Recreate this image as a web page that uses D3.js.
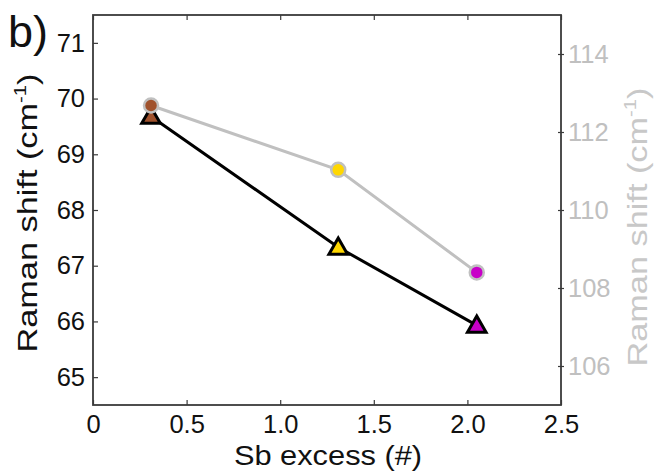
<!DOCTYPE html>
<html>
<head>
<meta charset="utf-8">
<script src="https://cdn.jsdelivr.net/npm/d3@7"></script>
<style>
  html, body { margin: 0; padding: 0; background: #fff; }
  svg { display: block; }
  text { font-family: "Liberation Sans", Arial, sans-serif; }
</style>
</head>
<body>
<svg id="chart" width="656" height="474"></svg>
<script>
// Sb excess for each sample
const sbExcess = [0.31, 1.31, 2.05];
// Low-frequency Raman mode (left axis), cm^-1
const ramanLow = [69.68, 67.33, 65.93];
// High-frequency Raman mode (right axis), cm^-1
const ramanHigh = [112.68, 111.03, 108.4];
// Sample colours
const sampleColors = ["#a0522d", "#ffd700", "#c800c8"];
// Tick labels
const xTicks = [0, 0.5, 1.0, 1.5, 2.0, 2.5];
const xTickLabels = ["0", "0.5", "1.0", "1.5", "2.0", "2.5"];
const yLeftTicks = [65, 66, 67, 68, 69, 70, 71];
const yRightTicks = [106, 108, 110, 112, 114];

const svg = d3.select("#chart");
const L = 93, R = 561, T = 15, B = 405;
const frameColor = "#3a3a3a";
const greyColor = "#c0c0c0";
const tickFont = 25.5;

const x = d3.scaleLinear().domain([0, 2.5]).range([L, R]);
const yL = d3.scaleLinear().domain([64.5, 71.5]).range([B, T]);
const yR = d3.scaleLinear().domain([105, 115]).range([B, T]);

// Bottom axis: inward ticks, labels below
const xAxis = svg.append("g").attr("transform", `translate(0,${B})`)
  .call(d3.axisBottom(x).tickValues(xTicks).tickFormat((d, i) => xTickLabels[i])
    .tickSizeInner(-5).tickSizeOuter(0).tickPadding(10));
// Top axis: inward ticks, no labels
const xTop = svg.append("g").attr("transform", `translate(0,${T})`)
  .call(d3.axisTop(x).tickValues(xTicks).tickFormat("").tickSizeInner(-5).tickSizeOuter(0));
// Left axis
const yAxisL = svg.append("g").attr("transform", `translate(${L},0)`)
  .call(d3.axisLeft(yL).tickValues(yLeftTicks).tickFormat(d3.format("d"))
    .tickSizeInner(-5).tickSizeOuter(0).tickPadding(8));
// Right axis (grey labels)
const yAxisR = svg.append("g").attr("transform", `translate(${R},0)`)
  .call(d3.axisRight(yR).tickValues(yRightTicks).tickFormat(d3.format("d"))
    .tickSizeInner(3).tickSizeOuter(0).tickPadding(4));
yAxisR.selectAll(".tick line").attr("x1", -3);

[xAxis, xTop, yAxisL, yAxisR].forEach(g => {
  g.select(".domain").remove();
  g.selectAll(".tick line").attr("stroke", frameColor).attr("stroke-width", 1.2);
  g.selectAll(".tick text").attr("font-size", tickFont)
    .attr("font-family", "'Liberation Sans', Arial, sans-serif").attr("fill", "#111");
});
yAxisR.selectAll(".tick text").attr("fill", "#c0c0c0");

// Plot frame
svg.append("rect").attr("x", L).attr("y", T).attr("width", R - L).attr("height", B - T)
  .attr("fill", "none").attr("stroke", frameColor).attr("stroke-width", 1.8);

const pts = sbExcess.map((s, i) => ({ s, lo: ramanLow[i], hi: ramanHigh[i], c: sampleColors[i] }));

// Low-frequency mode: black line with triangles
svg.append("path").datum(pts)
  .attr("d", d3.line().x(d => x(d.s)).y(d => yL(d.lo)))
  .attr("fill", "none").attr("stroke", "#000").attr("stroke-width", 3);
const tri = d3.symbol().type(d3.symbolTriangle).size(150);
svg.selectAll(".tri").data(pts).join("path")
  .attr("transform", d => `translate(${x(d.s)},${yL(d.lo) + 1.5})`)
  .attr("d", tri).attr("fill", d => d.c).attr("stroke", "#000").attr("stroke-width", 3)
  .attr("stroke-linejoin", "miter");

// High-frequency mode: grey line with circles
svg.append("path").datum(pts)
  .attr("d", d3.line().x(d => x(d.s)).y(d => yR(d.hi)))
  .attr("fill", "none").attr("stroke", greyColor).attr("stroke-width", 3);
svg.selectAll(".dot").data(pts).join("circle")
  .attr("cx", d => x(d.s)).attr("cy", d => yR(d.hi)).attr("r", 7)
  .attr("fill", d => d.c).attr("stroke", greyColor).attr("stroke-width", 2.5);

// Axis titles (stretched along their direction)
function ramanTitle(tx, ty, color) {
  const t = svg.append("text")
    .attr("transform", `translate(${tx},${ty}) rotate(-90) scale(1.27,1)`)
    .attr("text-anchor", "middle").attr("font-size", 27).attr("fill", color);
  t.append("tspan").text("Raman shift (cm");
  t.append("tspan").attr("font-size", 16).attr("dy", -11).text("-1");
  t.append("tspan").attr("dy", 11).text(")");
}
ramanTitle(37, 213, "#111");
ramanTitle(647, 227, "#c8c8c8");

svg.append("text").attr("transform", "translate(328,465) scale(1.1,1)")
  .attr("text-anchor", "middle").attr("font-size", 28).attr("fill", "#111").text("Sb excess (#)");

// Panel label
svg.append("text").attr("x", 8).attr("y", 47).attr("font-size", 45).attr("fill", "#111").text("b)");
</script>
</body>
</html>
